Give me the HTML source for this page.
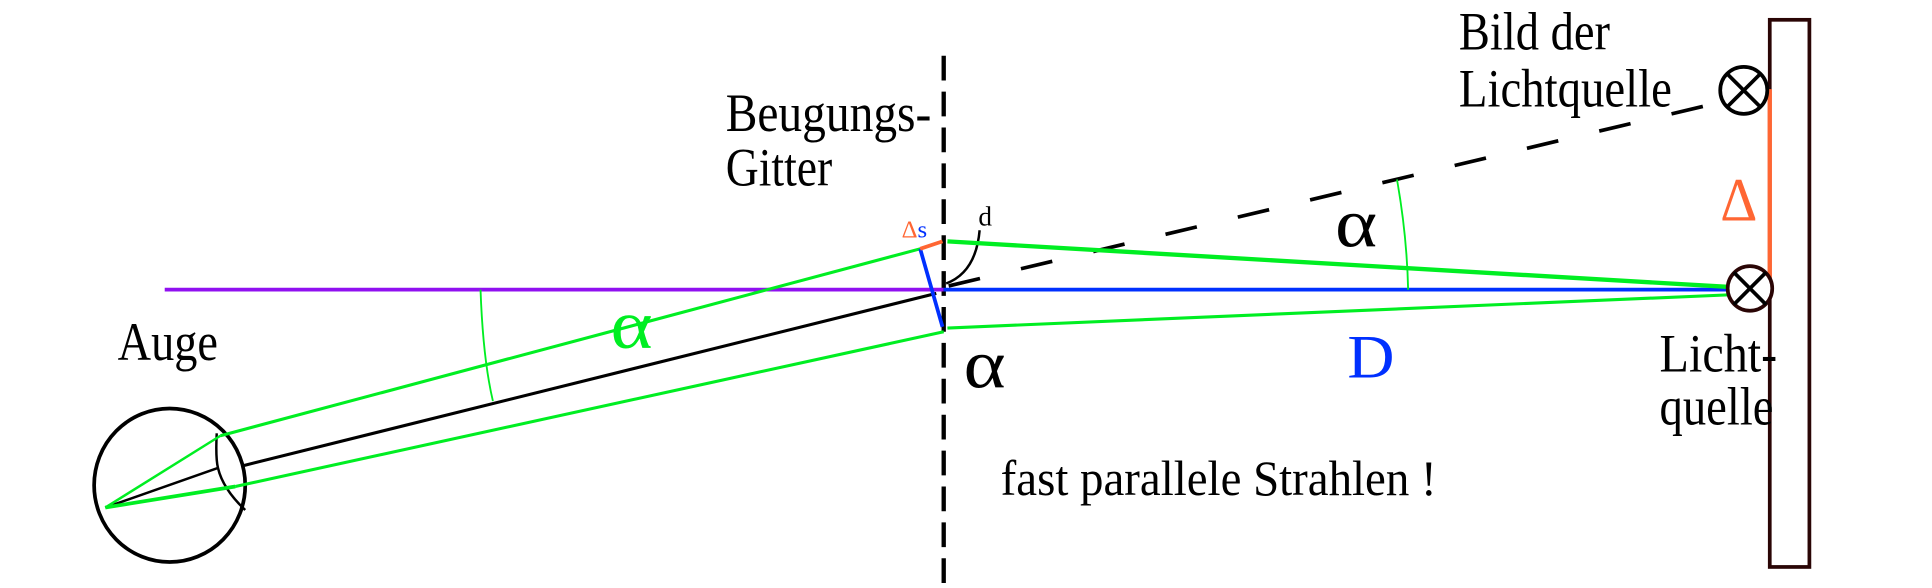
<!DOCTYPE html>
<html><head><meta charset="utf-8"><style>html,body{margin:0;padding:0;background:#fff;}svg{display:block}</style></head>
<body>
<svg width="1932" height="588" viewBox="0 0 1560 475" preserveAspectRatio="none" xmlns="http://www.w3.org/2000/svg" font-family="Liberation Serif, serif">
<rect width="1560" height="475" fill="#fff"/>
<line x1="762" y1="45" x2="762" y2="472" stroke="#000" stroke-width="3.5" stroke-dasharray="20,9"/>
<line x1="133" y1="234" x2="762" y2="234" stroke="#9010f0" stroke-width="3"/>
<line x1="762" y1="234" x2="1405" y2="234" stroke="#0030ff" stroke-width="3"/>
<ellipse cx="137" cy="392" rx="61" ry="62" fill="none" stroke="#000" stroke-width="3"/>
<path d="M175,350 Q174,370 176,378 Q180,395 198,412" fill="none" stroke="#000" stroke-width="2"/>
<line x1="85" y1="410" x2="176" y2="378" stroke="#000" stroke-width="2"/>
<line x1="85" y1="410" x2="178" y2="352" stroke="#00ee22" stroke-width="2"/>
<line x1="85" y1="410" x2="190" y2="393" stroke="#00ee22" stroke-width="3"/>
<line x1="178" y1="352" x2="743" y2="201" stroke="#00ee22" stroke-width="2.5"/>
<line x1="190" y1="393" x2="762" y2="268" stroke="#00ee22" stroke-width="2.5"/>
<line x1="197" y1="376" x2="756" y2="237" stroke="#000" stroke-width="2.5"/>
<path d="M388,234 Q390,290 398,324" fill="none" stroke="#00ee22" stroke-width="1.5"/>
<line x1="743" y1="201" x2="761" y2="264" stroke="#0030ff" stroke-width="3"/>
<line x1="743" y1="201" x2="761" y2="195" stroke="#ff6633" stroke-width="3"/>
<path d="M791,186 Q788,220 764,229" fill="none" stroke="#000" stroke-width="2"/>
<line x1="766" y1="231" x2="1400" y2="80" stroke="#000" stroke-width="3" stroke-dasharray="26,34"/>
<line x1="765" y1="195" x2="1400" y2="232" stroke="#00ee22" stroke-width="3.5"/>
<line x1="765" y1="265" x2="1400" y2="238" stroke="#00ee22" stroke-width="2.5"/>
<path d="M1128,145 Q1136,190 1137,234" fill="none" stroke="#00ee22" stroke-width="1.5"/>
<rect x="1429" y="16" width="32" height="442" fill="none" stroke="#2a0505" stroke-width="3"/>
<line x1="1429" y1="72" x2="1429" y2="234" stroke="#ff6633" stroke-width="3.5"/>
<circle cx="1408" cy="73" r="19" fill="#fff" stroke="#000" stroke-width="3"/>
<line x1="1395" y1="60" x2="1421" y2="86" stroke="#000" stroke-width="3"/>
<line x1="1421" y1="60" x2="1395" y2="86" stroke="#000" stroke-width="3"/>
<circle cx="1413" cy="233" r="18" fill="#fff" stroke="#2a0505" stroke-width="3"/>
<line x1="1400" y1="220" x2="1426" y2="246" stroke="#000" stroke-width="3"/>
<line x1="1426" y1="220" x2="1400" y2="246" stroke="#000" stroke-width="3"/>
<g font-size="44" fill="#000">
<text x="586" y="106" textLength="166" lengthAdjust="spacingAndGlyphs">Beugungs-</text>
<text x="586" y="150" textLength="86" lengthAdjust="spacingAndGlyphs">Gitter</text>
<text x="95" y="291" textLength="81" lengthAdjust="spacingAndGlyphs">Auge</text>
<text x="1178" y="40" textLength="122" lengthAdjust="spacingAndGlyphs">Bild der</text>
<text x="1178" y="86" textLength="172" lengthAdjust="spacingAndGlyphs">Lichtquelle</text>
<text x="1340" y="300" textLength="95" lengthAdjust="spacingAndGlyphs">Licht-</text>
<text x="1340" y="343" textLength="92" lengthAdjust="spacingAndGlyphs">quelle</text>
<text x="808" y="400" font-size="40" textLength="352" lengthAdjust="spacingAndGlyphs">fast parallele Strahlen !</text>
<text x="778" y="313" font-size="56" textLength="34" lengthAdjust="spacingAndGlyphs">α</text>
<text x="1078" y="199" font-size="56" textLength="34" lengthAdjust="spacingAndGlyphs">α</text>
</g>
<text x="493" y="281" font-size="56" fill="#00ee22" textLength="34" lengthAdjust="spacingAndGlyphs">α</text>
<text x="1088" y="305" font-size="50" fill="#0030ff" textLength="38" lengthAdjust="spacingAndGlyphs">D</text>
<text x="1389" y="178" font-size="50" fill="#ff6633" textLength="30" lengthAdjust="spacingAndGlyphs">Δ</text>
<text x="728" y="192" font-size="20" fill="#ff6633">Δ<tspan fill="#0030ff">s</tspan></text>
<text x="790" y="182" font-size="22" fill="#000">d</text>
</svg>
</body></html>
